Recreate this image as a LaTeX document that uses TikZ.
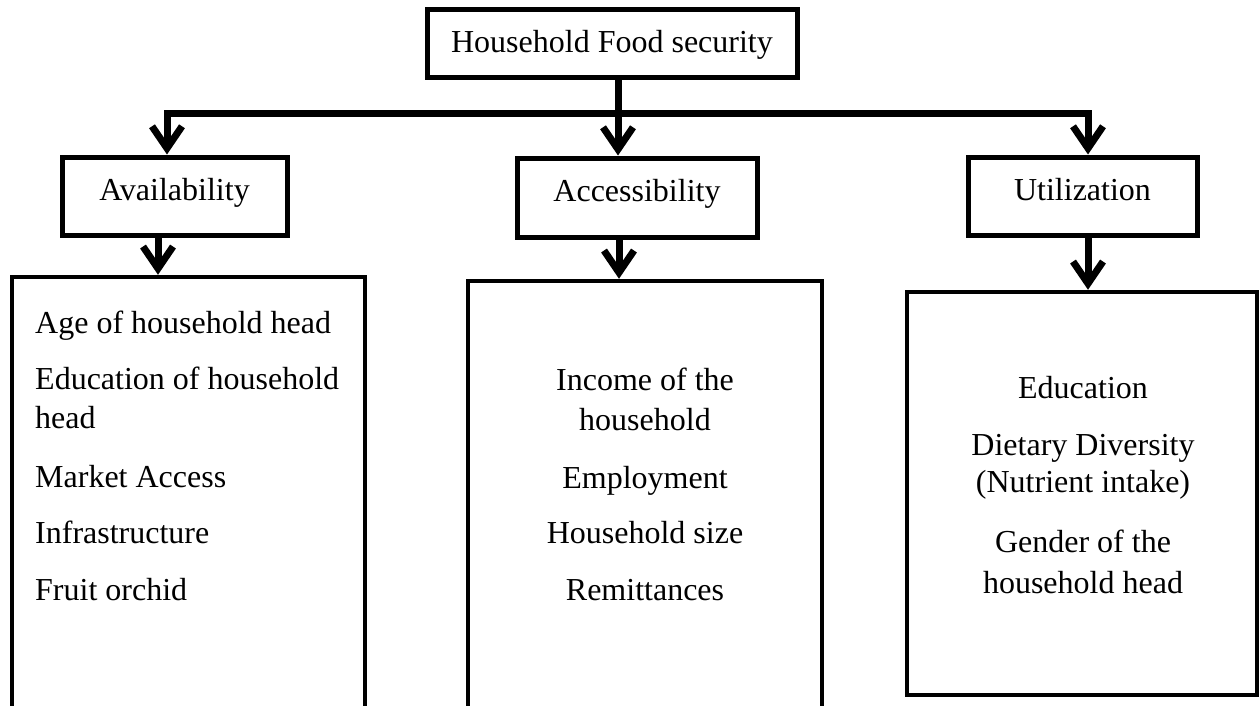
\documentclass[tikz,border=0pt]{standalone}
\usepackage{fontspec}
\setmainfont{Liberation Serif}
\usetikzlibrary{arrows.meta}
\begin{document}
\begin{tikzpicture}[x=1pt,y=-1pt,
  txt/.style={font=\fontsize{32}{40}\selectfont, inner sep=0pt},
  box/.style={draw, line width=5pt, inner sep=0pt, font=\fontsize{32}{40}\selectfont},
  bigbox/.style={draw, line width=4.5pt, inner sep=0pt},
  conn/.style={line width=7pt, line join=miter},
  arr/.style={-{Straight Barb[length=22pt,width=30pt]}},
]
\useasboundingbox (0,0) rectangle (1260,705);

% header boxes
\node[box, minimum width=370pt, minimum height=68pt, text height=24pt, text depth=6pt] (top) at (612,43) {Household Food security};
\node[box, minimum width=225pt, minimum height=78pt, text height=20pt, text depth=12pt] (avail) at (174.5,196) {Availability};
\node[box, minimum width=240pt, minimum height=79pt, text height=20pt, text depth=12pt] (acc) at (637,197.5) {Accessibility};
\node[box, minimum width=229pt, minimum height=78pt, text height=20pt, text depth=12pt] (util) at (1082.5,196) {Utilization};

% lower boxes
\node[bigbox, minimum width=353pt, minimum height=453pt] (lbox) at (188.5,503.5) {};
\node[bigbox, minimum width=354pt, minimum height=449pt] (mbox) at (645,505.5) {};
\node[bigbox, minimum width=350pt, minimum height=403pt] (rbox) at (1082,493.5) {};

% left texts
\node[txt, anchor=base west] (l1) at (35,333) {Age of household head};
\node[txt, anchor=base west] (l2) at (35,389) {Education of household};
\node[txt, anchor=base west] (l3) at (35,428) {head};
\node[txt, anchor=base west] (l4) at (35,487) {Market Access};
\node[txt, anchor=base west] (l5) at (35,543) {Infrastructure};
\node[txt, anchor=base west] (l6) at (35,600) {Fruit orchid};

% middle texts
\node[txt, anchor=base] (m1) at (645,390) {Income of the};
\node[txt, anchor=base] (m2) at (645,430) {household};
\node[txt, anchor=base] (m3) at (645,488) {Employment};
\node[txt, anchor=base] (m4) at (645,543) {Household size};
\node[txt, anchor=base] (m5) at (645,600) {Remittances};

% right texts
\node[txt, anchor=base] (r1) at (1083,398) {Education};
\node[txt, anchor=base] (r2) at (1083,455) {Dietary Diversity};
\node[txt, anchor=base] (r3) at (1083,492) {(Nutrient intake)};
\node[txt, anchor=base] (r4) at (1083,552) {Gender of the};
\node[txt, anchor=base] (r5) at (1083,593) {household head};

% connector coordinates
\coordinate (jL) at (167,113);
\coordinate (jM) at (618,113);
\coordinate (jR) at (1088,113);
\coordinate (xa) at (158,0);
\coordinate (xb) at (619,0);
\coordinate (xc) at (1088,0);

\draw[conn] (top.south -| jM) -- (jM);
\draw[conn,arr] (jM) -- (jL) -- (avail.north -| jL);
\draw[conn,arr] (jM) -- (jR) -- (util.north -| jR);
\draw[conn,arr] (jM) -- (acc.north -| jM);

\draw[conn,arr] (avail.south -| xa) -- (lbox.north -| xa);
\draw[conn,arr] (acc.south -| xb) -- (mbox.north -| xb);
\draw[conn,arr] (util.south -| xc) -- (rbox.north -| xc);
\end{tikzpicture}
\end{document}
